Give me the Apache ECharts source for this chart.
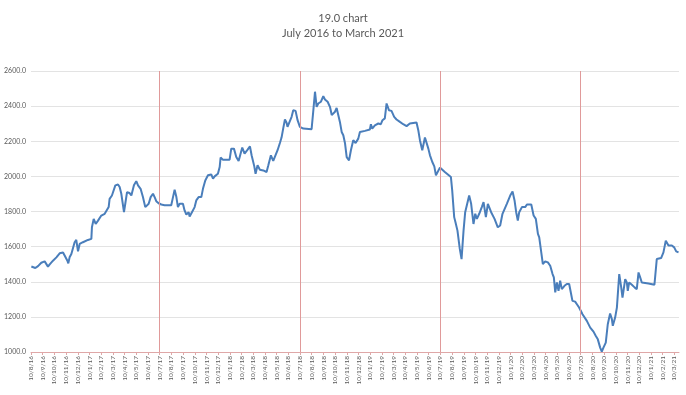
<!DOCTYPE html>
<html>
<head>
<meta charset="utf-8">
<script src="https://cdn.jsdelivr.net/npm/echarts@6/dist/echarts.min.js"></script>
<style>html,body{margin:0;padding:0;background:#fff}#c{width:686px;height:395px}</style>
</head>
<body>
<div id="c"></div>
<script>
// x tick labels (one per month, day 10)
const tickLabels = [
 "10/8/16","10/9/16","10/10/16","10/11/16","10/12/16",
 "10/1/17","10/2/17","10/3/17","10/4/17","10/5/17","10/6/17","10/7/17","10/8/17","10/9/17","10/10/17","10/11/17","10/12/17",
 "10/1/18","10/2/18","10/3/18","10/4/18","10/5/18","10/6/18","10/7/18","10/8/18","10/9/18","10/10/18","10/11/18","10/12/18",
 "10/1/19","10/2/19","10/3/19","10/4/19","10/5/19","10/6/19","10/7/19","10/8/19","10/9/19","10/10/19","10/11/19","10/12/19",
 "10/1/20","10/2/20","10/3/20","10/4/20","10/5/20","10/6/20","10/7/20","10/8/20","10/9/20","10/10/20","10/11/20","10/12/20",
 "10/1/21","10/2/21","10/3/21"
];
// month positions of the marker lines (10 July each year)
const markerMonths = [11, 23, 35, 47];
// series: position in months since 10/8/16, and value
const monthPos = [
 0.03,0.37,0.60,0.88,1.03,1.17,1.31,1.45,1.60,1.88,2.17,2.45,2.74,2.88,3.11,3.19,3.30,3.45,3.59,3.73,3.87,4.02,4.16,4.44,4.87,5.16,5.21,5.36,5.53,5.73,6.01,6.30,6.44,6.64,6.72,6.92,7.21,7.44,7.58,7.72,7.95,8.06,8.21,8.43,8.58,8.80,9.00,9.15,9.37,9.57,9.77,9.94,10.06,10.23,10.43,10.57,10.71,10.91,11.14,11.42,11.99,12.14,12.28,12.42,12.56,12.71,12.99,13.13,13.28,13.48,13.56,13.76,13.99,14.13,14.33,14.56,14.70,14.90,15.13,15.41,15.56,15.70,15.98,16.13,16.21,16.41,16.98,17.12,17.35,17.55,17.75,17.92,18.06,18.26,
 18.52,18.72,18.86,19.09,19.20,19.37,19.57,19.86,20.14,20.29,20.51,20.71,20.85,21.08,21.28,21.42,21.56,21.71,21.85,21.93,22.08,22.28,22.42,22.62,22.79,22.99,23.28,23.99,24.14,24.28,24.42,24.56,24.79,24.99,25.13,25.36,25.56,25.71,25.85,25.99,26.13,26.27,26.41,26.56,26.70,26.85,26.99,27.19,27.35,27.55,27.75,27.98,28.12,28.55,28.97,29.06,29.17,29.40,29.69,29.91,30.05,30.25,30.40,30.60,30.82,31.05,31.25,31.54,31.82,32.11,32.39,32.96,33.11,33.25,33.45,33.68,33.82,33.97,34.11,34.31,34.48,34.62,34.76,34.96,35.38,35.90,36.01,36.18,36.29,36.46,36.66,36.81,
 36.98,37.12,37.26,37.46,37.63,37.83,37.98,38.12,38.32,38.54,38.69,38.89,39.06,39.17,39.34,39.63,39.91,40.11,40.31,40.68,40.97,41.17,41.34,41.48,41.62,41.74,41.97,42.25,42.40,42.77,42.97,43.16,43.34,43.45,43.56,43.76,43.96,44.19,44.39,44.59,44.70,44.82,44.96,45.10,45.24,45.38,45.61,45.81,46.01,46.18,46.29,46.52,46.67,46.86,47.15,47.52,47.81,47.95,48.09,48.29,48.46,48.66,48.80,48.94,49.14,49.31,49.51,49.66,49.74,49.94,50.09,50.29,50.46,50.57,50.68,50.80,50.94,51.02,51.14,51.37,51.60,51.79,51.94,52.08,52.22,52.79,53.30,53.50,53.64,53.87,54.07,54.27,54.50,54.79,54.99,55.16,55.36
];
const values = [
 1487,1478,1489,1508,1497,1516,1524,1486,1499,1520,1539,1562,1567,1558,1520,1505,1539,1558,1567,1625,1638,1573,1615,1625,1638,1644,1710,1758,1729,1748,1777,1787,1777,1825,1872,1891,1949,1954,1939,1901,1796,1844,1910,1905,1891,1949,1973,1949,1929,1882,1825,1815,1844,1882,1901,1882,1859,1847,1840,1836,1836,1882,1924,1886,1825,1844,1844,1806,1783,1796,1771,1796,1825,1863,1882,1882,1929,1977,2006,2011,1987,2000,2015,2053,2107,2095,2095,2158,2158,2110,2088,2091,2164,2130,
 2152,2171,2120,2057,2015,2063,2038,2034,2025,2063,2120,2088,2082,2149,2190,2221,2272,2324,2305,2282,2282,2339,2377,2373,2320,2282,2272,2269,2377,2482,2396,2415,2425,2457,2438,2425,2396,2349,2343,2368,2390,2349,2310,2253,2234,2187,2110,2091,2149,2206,2190,2215,2253,2259,2267,2297,2272,2291,2301,2297,2320,2330,2415,2377,2373,2339,2324,2310,2297,2286,2301,2307,2263,2206,2149,2221,2210,2158,2120,2082,2057,2006,2011,2050,2025,1996,1920,1768,1739,1691,1587,1529,
 1691,1796,1787,1891,1844,1729,1787,1758,1787,1825,1853,1768,1844,1853,1796,1758,1710,1720,1787,1844,1891,1914,1863,1796,1748,1796,1825,1825,1840,1840,1777,1758,1672,1653,1663,1501,1516,1510,1491,1444,1425,1339,1396,1348,1406,1358,1377,1387,1387,1329,1291,1287,1272,1253,1215,1177,1139,1149,1116,1091,1072,1025,1002,1025,1053,1158,1219,1187,1149,1196,1253,1444,1368,1310,1320,1415,1396,1348,1396,1383,1368,1358,1453,1425,1396,1390,1383,1529,1520,1535,1567,1634,1606,1606,1596,1573,1567
];

const seriesData = monthPos.map((m, i) => [m, values[i]]);
const chart = echarts.init(document.getElementById('c'), null, {renderer: 'canvas'});
const FONT = 'Lato, "Open Sans", sans-serif';
chart.setOption({
  animation: false,
  backgroundColor: '#fff',
  title: {
    text: '19.0 chart',
    subtext: 'July 2016 to March 2021',
    left: 'center',
    top: 8,
    itemGap: 4,
    textStyle: {fontFamily: FONT, fontSize: 11, fontWeight: 'normal', color: '#595959'},
    subtextStyle: {fontFamily: FONT, fontSize: 11, color: '#595959'}
  },
  grid: {left: 31, right: 7, top: 71, bottom: 43},
  xAxis: {
    type: 'value',
    min: 0,
    max: 55.4,
    interval: 1,
    splitLine: {show: false},
    axisLine: {lineStyle: {color: '#dfa7a7', width: 1}},
    axisTick: {show: true, length: 3, lineStyle: {color: '#dfa7a7'}},
    axisLabel: {
      rotate: 90,
      margin: 4,
      fontSize: 6.5,
      fontFamily: FONT,
      color: '#595959',
      showMaxLabel: false,
      formatter: v => {
        const r = Math.round(v);
        return Math.abs(v - r) < 1e-6 && tickLabels[r] ? tickLabels[r] : '';
      }
    }
  },
  yAxis: {
    type: 'value',
    min: 1000,
    max: 2600,
    interval: 200,
    axisLine: {show: false},
    axisTick: {show: false},
    splitLine: {lineStyle: {color: '#e3e3e3', width: 1}},
    axisLabel: {fontSize: 7, fontFamily: FONT, color: '#595959', margin: 5, formatter: v => v.toFixed(1)}
  },
  series: [{
    type: 'line',
    data: seriesData,
    showSymbol: false,
    smooth: false,
    lineStyle: {color: '#4a7ebb', width: 2},
    markLine: {
      silent: true,
      symbol: 'none',
      label: {show: false},
      lineStyle: {color: '#e09a9a', width: 1, type: 'solid'},
      data: markerMonths.map(m => ({xAxis: m}))
    }
  }]
});
</script>
</body>
</html>
